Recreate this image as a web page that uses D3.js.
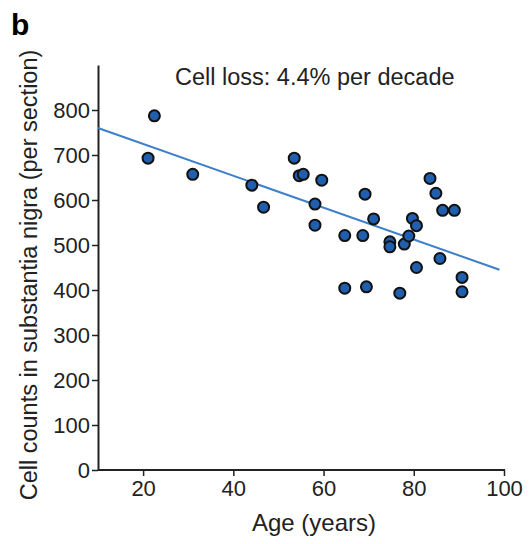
<!DOCTYPE html>
<html>
<head>
<meta charset="utf-8">
<script src="https://cdn.jsdelivr.net/npm/d3@7"></script>
<style>
  body { margin: 0; background: #fff; }
  svg { display: block; font-family: "Liberation Sans", Arial, Helvetica, sans-serif; }
</style>
</head>
<body>
<svg id="chart"></svg>
<script>
// Age (years) and cell counts
const ages = [22.5, 21.1, 31.0, 44.1, 46.7, 53.5, 54.6, 55.5, 59.6, 58.1, 58.1,
  64.7, 68.7, 69.2, 71.1, 64.7, 69.5, 74.7, 74.7, 77.9, 78.9, 79.7, 80.6,
  76.9, 80.6, 83.6, 84.9, 86.4, 89.0, 85.8, 90.7, 90.7];
const counts = [787, 693, 657, 633, 584, 693, 654, 657, 644, 591, 544,
  521, 521, 613, 558, 404, 407, 507, 496, 502, 520, 559, 543,
  393, 450, 648, 615, 577, 577, 470, 428, 396];

// Fitted regression line end points
const fitAges = [10, 99];
const fitCounts = [760, 445];

const xTicks = [20, 40, 60, 80, 100];
const yTicks = [0, 100, 200, 300, 400, 500, 600, 700, 800];

const width = 531, height = 544;
const svg = d3.select("#chart")
  .attr("width", width)
  .attr("height", height);

const x = d3.scaleLinear().domain([10, 100]).range([98, 504]);
const y = d3.scaleLinear().domain([0, 900]).range([470, 65]);

// Panel letter
svg.append("text")
  .attr("x", 11)
  .attr("y", 35)
  .attr("font-size", 30)
  .attr("font-weight", "bold")
  .text("b");

// Axes
const xAxis = svg.append("g")
  .attr("transform", "translate(0,470)")
  .call(d3.axisBottom(x).tickValues(xTicks).tickSize(6).tickPadding(4).tickSizeOuter(0));
const yAxis = svg.append("g")
  .attr("transform", "translate(98,0)")
  .call(d3.axisLeft(y).tickValues(yTicks).tickSize(6).tickPadding(2).tickSizeOuter(0));

[xAxis, yAxis].forEach(g => {
  g.select(".domain").attr("stroke", "#222").attr("stroke-width", 2);
  g.selectAll(".tick line").attr("stroke", "#222").attr("stroke-width", 1.5);
  g.selectAll(".tick text")
    .attr("fill", "#222")
    .attr("font-size", 22)
    .attr("font-family", "Liberation Sans, Arial, sans-serif");
});
// x axis line runs a bit past the 100 tick
xAxis.select(".domain").attr("d", "M98,0H505");

// Axis titles
svg.append("text")
  .attr("x", 314)
  .attr("y", 531)
  .attr("text-anchor", "middle")
  .attr("font-size", 24)
  .attr("fill", "#222")
  .text("Age (years)");

svg.append("text")
  .attr("transform", "translate(37,275) rotate(-90)")
  .attr("text-anchor", "middle")
  .attr("font-size", 23.5)
  .attr("fill", "#222")
  .text("Cell counts in substantia nigra (per section)");

// Annotation
svg.append("text")
  .attr("x", 175)
  .attr("y", 85)
  .attr("font-size", 23.5)
  .attr("fill", "#222")
  .text("Cell loss: 4.4% per decade");

// Regression line
svg.append("line")
  .attr("x1", x(fitAges[0]))
  .attr("y1", y(fitCounts[0]))
  .attr("x2", x(fitAges[1]))
  .attr("y2", y(fitCounts[1]))
  .attr("stroke", "#3d7fcb")
  .attr("stroke-width", 2);

// Points
svg.append("g")
  .selectAll("circle")
  .data(ages.map((a, i) => ({age: a, count: counts[i]})))
  .enter()
  .append("circle")
  .attr("cx", d => x(d.age))
  .attr("cy", d => y(d.count))
  .attr("r", 5.5)
  .attr("fill", "#1f5fae")
  .attr("stroke", "#111")
  .attr("stroke-width", 2);
</script>
</body>
</html>
